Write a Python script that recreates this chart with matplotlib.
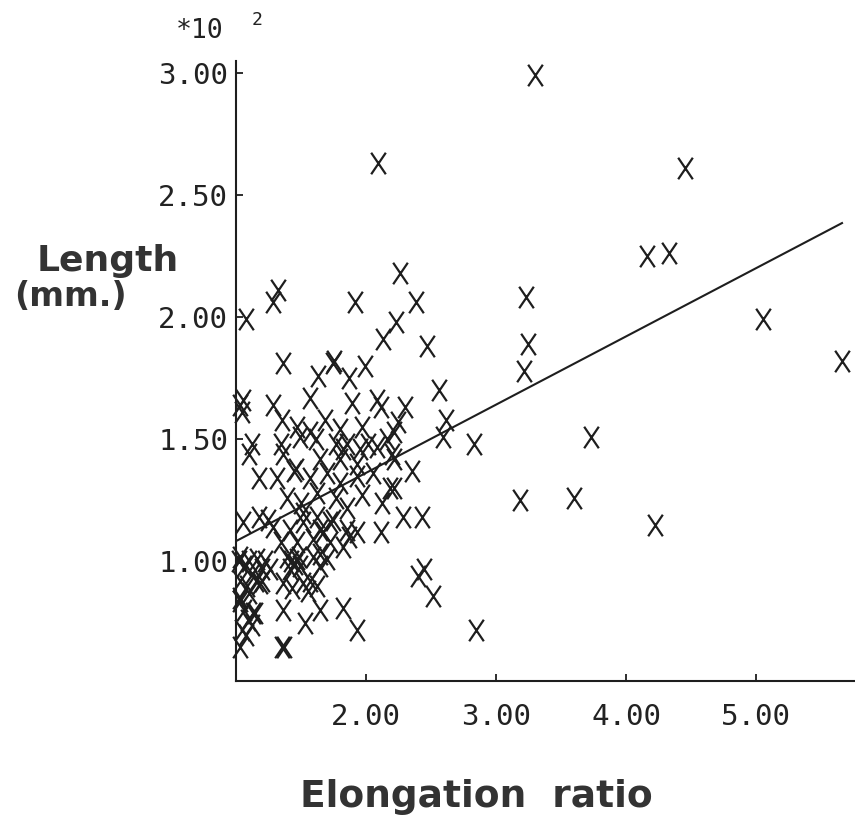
#!/usr/bin/env python3

from __future__ import annotations

import matplotlib

matplotlib.use("Agg")
import matplotlib.pyplot as plt
from matplotlib.path import Path

# elongation ratio vs length (in units of 10^2 mm)
ELONGATION = [
    3.30, 2.09, 4.45, 4.16, 4.33, 5.05, 5.66, 3.73, 3.60, 3.18, 4.22, 3.23, 3.24, 3.21, 2.83, 2.84,
    2.26, 2.38, 1.91, 2.23, 2.13, 2.47, 2.56, 2.30, 2.61, 2.59, 2.24, 2.21, 2.35, 2.21, 2.28, 2.43,
    2.12, 2.11, 2.20, 2.44, 2.40, 2.51,
    1.93, 1.82, 1.64, 1.53, 1.36, 1.35, 1.37, 1.43, 1.55, 1.64, 1.57, 1.03, 1.07, 1.14, 1.03, 1.10,
    1.20, 1.03, 1.41, 1.49,
    1.07, 1.32, 1.28, 1.36, 1.74, 1.75, 1.99, 1.63, 1.87, 1.57, 1.89, 2.08, 2.11, 1.05, 1.04, 1.03,
    1.28, 1.35, 1.47, 1.68, 1.57, 1.80, 1.97, 2.16, 1.49, 1.61, 1.12, 1.34, 1.77, 1.82, 1.85, 1.95,
    2.08, 2.01, 2.21, 1.10, 1.36, 1.64, 1.80, 1.93, 2.05,
    1.17, 1.31, 1.44, 1.46, 1.57, 1.70, 1.80, 1.93, 2.18, 1.39, 1.50, 1.62, 1.77, 1.97, 1.85, 1.05,
    1.17, 1.28, 1.41, 1.51, 1.51, 1.64, 1.74, 1.85, 1.93, 1.87, 1.34, 1.47, 1.59, 1.72, 1.82, 1.24,
    1.64, 1.70, 1.62, 1.72, 1.67,
    1.03, 1.16, 1.26, 1.39, 1.47, 1.59, 1.18, 1.36, 1.51, 1.62, 1.03, 1.13,
    1.02, 1.06, 1.10, 1.12, 1.20, 1.22, 1.42, 1.45, 1.48, 1.09, 1.12, 1.06, 1.15, 1.08, 1.04,
]
LENGTH = [
    2.99, 2.63, 2.61, 2.25, 2.26, 1.99, 1.82, 1.51, 1.26, 1.25, 1.15, 2.08, 1.89, 1.78, 1.48, 0.72,
    2.18, 2.06, 2.06, 1.98, 1.91, 1.88, 1.70, 1.63, 1.58, 1.51, 1.57, 1.53, 1.37, 1.30, 1.18, 1.18,
    1.24, 1.12, 1.44, 0.97, 0.94, 0.86,
    0.72, 0.81, 0.80, 0.75, 0.80, 0.65, 0.65, 0.89, 0.88, 0.98, 0.92, 0.65, 0.70, 0.79, 0.84, 0.87,
    0.92, 0.92, 0.97, 0.98,
    1.99, 2.11, 2.06, 1.81, 1.81, 1.82, 1.80, 1.76, 1.75, 1.67, 1.65, 1.66, 1.63, 1.66, 1.61, 1.64,
    1.64, 1.58, 1.55, 1.58, 1.53, 1.54, 1.55, 1.50, 1.51, 1.50, 1.48, 1.48, 1.48, 1.46, 1.48, 1.46,
    1.47, 1.48, 1.42, 1.44, 1.44, 1.42, 1.42, 1.40, 1.36,
    1.34, 1.34, 1.37, 1.38, 1.34, 1.36, 1.32, 1.35, 1.30, 1.26, 1.24, 1.28, 1.26, 1.27, 1.22, 1.16,
    1.18, 1.14, 1.13, 1.16, 1.20, 1.13, 1.17, 1.13, 1.12, 1.10, 1.08, 1.08, 1.09, 1.08, 1.06, 1.17,
    1.03, 1.01, 1.18, 1.16, 1.12,
    1.02, 1.01, 0.97, 1.02, 1.01, 1.02, 0.91, 0.91, 0.91, 0.90, 0.85, 0.79,
    1.00, 0.98, 1.00, 0.95, 0.97, 1.00, 1.00, 0.99, 1.02, 0.76, 0.74, 0.80, 0.92, 0.90, 0.72,
]

# least-squares line as drawn on the original
FIT_INTERCEPT = 0.805
FIT_SLOPE = 0.279
FIT_RANGE = [1.0, 5.66]

X_TICKS = [2.0, 3.0, 4.0, 5.0]
Y_TICKS = [1.0, 1.5, 2.0, 2.5, 3.0]

INK = "#1e1e1e"


def plotter_cross() -> Path:
    # tall, narrow X like the pen-plotter glyph
    verts = [(-0.34, -0.5), (0.34, 0.5), (-0.34, 0.5), (0.34, -0.5)]
    codes = [Path.MOVETO, Path.LINETO, Path.MOVETO, Path.LINETO]
    return Path(verts, codes)


def main() -> int:
    fig = plt.figure(figsize=(8.55, 8.18), dpi=100)
    ax = fig.add_axes((0.2765, 0.1675, 0.7235, 0.7579))

    ax.plot(
        ELONGATION,
        LENGTH,
        linestyle="none",
        marker=plotter_cross(),
        markersize=15.5,
        markeredgewidth=1.6,
        markerfacecolor="none",
        markeredgecolor=INK,
        clip_on=False,
    )
    fit_y = [FIT_INTERCEPT + FIT_SLOPE * x for x in FIT_RANGE]
    ax.plot(FIT_RANGE, fit_y, color=INK, linewidth=1.5, clip_on=False)

    ax.set_xlim(1.0, 5.76)
    ax.set_ylim(0.511, 3.047)
    ax.set_xticks(X_TICKS)
    ax.set_yticks(Y_TICKS)
    ax.set_xticklabels([f"{v:.2f}" for v in X_TICKS])
    ax.set_yticklabels([f"{v:.2f}" for v in Y_TICKS])

    for side in ("top", "right"):
        ax.spines[side].set_visible(False)
    for side in ("left", "bottom"):
        ax.spines[side].set_linewidth(1.5)
        ax.spines[side].set_color(INK)
    ax.tick_params(
        direction="in", length=5, width=1.3, colors=INK,
        labelsize=21, labelcolor="#222222",
    )
    ax.tick_params(axis="x", pad=16)
    ax.tick_params(axis="y", pad=6)
    for lbl in ax.get_xticklabels() + ax.get_yticklabels():
        lbl.set_family("DejaVu Sans Mono")

    # exponent marker above the y axis
    fig.text(176 / 855, 1 - 31 / 818, "*10", fontsize=19, family="DejaVu Sans Mono",
             ha="left", va="center", color="#222222")
    fig.text(257 / 855, 1 - 20 / 818, "2", fontsize=13, family="DejaVu Sans Mono",
             ha="center", va="center", color="#222222")

    label_style = dict(family="DejaVu Sans", fontweight="heavy", color="#333333")
    fig.text(108 / 855, 1 - 261 / 818, "Length", fontsize=26, ha="center", va="center", **label_style)
    fig.text(70 / 855, 1 - 296 / 818, "(mm.)", fontsize=24, ha="center", va="center", **label_style)
    fig.text(476 / 855, 1 - 797 / 818, "Elongation  ratio", fontsize=27, ha="center", va="center",
             **label_style)

    fig.savefig("out.png", dpi=100)
    plt.close(fig)
    return 0


if __name__ == "__main__":
    raise SystemExit(main())
